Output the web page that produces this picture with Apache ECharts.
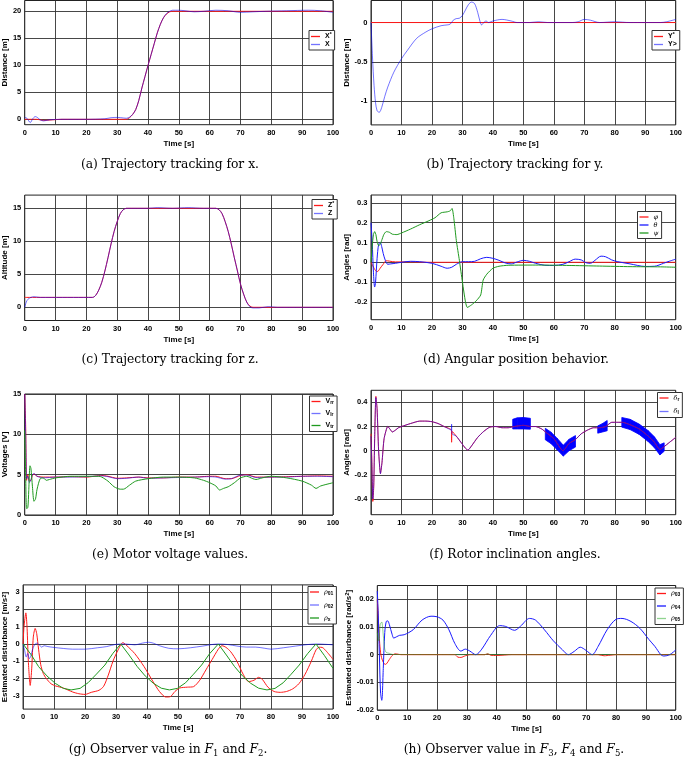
<!DOCTYPE html>
<html>
<head>
<meta charset="utf-8">
<script src="https://cdn.jsdelivr.net/npm/echarts@6/dist/echarts.min.js"></script>
<style>
  html, body { margin: 0; padding: 0; background: #fff; }
  #chart { width: 685px; height: 757px; }
</style>
</head>
<body>
<div id="chart"></div>
<script>
// ---- tick labels ----
const xTicks = [0, 10, 20, 30, 40, 50, 60, 70, 80, 90, 100];
const yTicksA = [0, 5, 10, 15, 20];
const yTicksB = [-1, -0.5, 0];
const yTicksC = [0, 5, 10, 15];
const yTicksD = [-0.2, -0.1, 0, 0.1, 0.2, 0.3];
const yTicksE = [0, 5, 10, 15];
const yTicksF = [-0.4, -0.2, 0, 0.2, 0.4];
const yTicksG = [-3, -2, -1, 0, 1, 2, 3];
const yTicksH = [-0.02, -0.01, 0, 0.01, 0.02];

// ---- (a) x tracking [t, value] ----
const xRef = [[0,0],[4,0],[6,-0.2],[9,-0.1],[12,0],[33,0],[34,0.3],[35,0.9],[36,1.8],[37,3.5],[38,5.8],[39,7.9],[40,10],[41,12],[42,14],[43,16],[44,17.6],[45,18.8],[46,19.5],[47,19.9],[48,20],[100,20]];
const xAct = [[0,0.35],[0.7,0.2],[1.8,-0.6],[2.6,0.1],[3.4,0.5],[4.2,0.3],[5,-0.1],[6.1,-0.3],[8,-0.1],[12,0],[20,0],[26,0.1],[28,0.3],[30,0.35],[32,0.25],[33,0.2],[34,0.4],[35,0.9],[36,1.8],[37,3.5],[38,5.8],[39,7.9],[40,10],[41,12],[42,14],[43,16],[44,17.6],[45,18.8],[46,19.6],[47,20],[48,20.2],[50,20.2],[52,20.1],[55,19.9],[58,20],[62,20.2],[66,20.1],[70,19.8],[74,19.9],[78,20],[85,20.1],[92,20.2],[96,20.1],[100,19.8]];

// ---- (b) y tracking ----
const yRef = [[0,0],[100,0]];
const yAct = [[0,0],[0.5,-0.45],[1,-0.8],[1.5,-1.02],[2,-1.12],[2.7,-1.14],[3.5,-1.08],[4.5,-0.94],[5.5,-0.82],[7.5,-0.63],[10,-0.46],[12,-0.35],[15,-0.2],[18,-0.12],[20,-0.08],[23,-0.04],[25,-0.03],[26,-0.02],[27,0.03],[28,0.05],[29,0.055],[30,0.09],[31,0.16],[32,0.23],[33,0.26],[34,0.24],[35,0.13],[35.8,0.01],[36.3,-0.03],[37,0],[37.8,0.02],[38.5,0],[40,0.02],[43,0.04],[46,0.02],[48,0],[52,0],[55,0.01],[58,0],[62,0],[66,0],[68,0.01],[70,0.04],[72,0.03],[75,0],[80,0.01],[85,0],[90,0],[95,0],[97,0.01],[100,0.04]];

// ---- (c) z tracking ----
const zRef = [[0,1.5],[22,1.5],[23,1.8],[24,2.6],[25,3.8],[26,5.5],[27,7.5],[28,9.6],[29,11.5],[30,13],[31,14.2],[32,14.8],[33,15],[62,15],[63,14.8],[64,14.2],[65,13],[66,11.5],[67,9.6],[68,7.5],[69,5.5],[70,3.5],[71,2],[72,0.8],[73,0.2],[74,0],[100,0]];
const zAct = [[0,0],[0.5,0.8],[1,1.2],[2,1.5],[3,1.6],[5,1.5],[22,1.5],[23,1.8],[24,2.6],[25,3.8],[26,5.5],[27,7.5],[28,9.6],[29,11.5],[30,13],[31,14.2],[32,14.8],[33,15],[40,15],[43,15.1],[48,15],[53,15.1],[58,15],[62,15],[63,14.8],[64,14.2],[65,13],[66,11.5],[67,9.6],[68,7.5],[69,5.5],[70,3.5],[71,2],[72,0.8],[73,0.1],[74,-0.1],[76,-0.1],[79,0.1],[82,0],[100,0]];

// ---- (d) angles ----
const phi = [[0,0],[0.5,-0.015],[1,-0.03],[1.5,-0.042],[2,-0.047],[2.5,-0.042],[3,-0.03],[4,-0.01],[5,0.008],[6,0.006],[8,0.002],[12,0.002],[20,0],[100,0]];
const theta = [[0,0.2],[0.4,0.1],[0.8,-0.05],[1.2,-0.125],[1.5,-0.1],[2,0.02],[2.5,0.09],[3,0.1],[3.5,0.08],[4,0.045],[4.7,0.01],[5.5,-0.01],[6.5,-0.008],[8,-0.005],[10,0],[13,0.005],[16,0.003],[20,-0.005],[23,-0.02],[25,-0.03],[26.5,-0.025],[28,-0.01],[30,0.003],[32,0.003],[34,0.005],[36,0.018],[38,0.025],[40,0.02],[42,0.01],[44,-0.003],[46,-0.008],[48,0.002],[50,0.01],[52,0.005],[54,-0.005],[57,-0.015],[60,-0.016],[63,-0.01],[65,0.003],[67,0.016],[69,0.012],[70.5,-0.002],[72,-0.005],[73.5,0.01],[75.5,0.031],[77,0.028],[79,0.012],[81,0.003],[85,-0.008],[90,-0.021],[93,-0.02],[96,-0.005],[98,0.006],[100,0.016]];
const psi = [[0,0],[0.4,0.08],[0.8,0.14],[1.2,0.155],[1.6,0.14],[2,0.105],[2.5,0.085],[3,0.09],[3.5,0.11],[4.2,0.14],[5,0.155],[6,0.152],[7,0.142],[8.5,0.14],[10,0.148],[13,0.168],[16,0.19],[19,0.21],[21,0.225],[23,0.25],[25,0.255],[26,0.26],[26.6,0.272],[27.2,0.22],[28,0.11],[29,0.01],[30,-0.1],[31,-0.2],[31.6,-0.228],[33,-0.215],[34.5,-0.195],[36,-0.165],[36.8,-0.09],[38,-0.06],[40,-0.03],[42,-0.02],[45,-0.015],[55,-0.014],[65,-0.016],[75,-0.019],[85,-0.022],[95,-0.023],[100,-0.025]];

// ---- (e) motor voltages ----
const vRR = [[0,15],[0.3,11],[0.6,4.3],[1,5],[1.5,4.2],[2,4.3],[2.5,4.9],[3,5.1],[4,4.8],[6,4.7],[10,4.7],[15,4.75],[20,4.7],[25,4.9],[27,4.8],[30,4.55],[33,4.6],[37,4.7],[40,4.6],[45,4.6],[50,4.7],[55,4.7],[60,4.8],[62,4.8],[65,4.5],[67,4.5],[70,4.9],[72,5],[75,4.7],[80,4.7],[85,4.75],[90,4.8],[95,4.85],[100,4.8]];
const vLR = [[0,15],[0.3,10],[0.6,4.5],[1,4.8],[1.5,4],[2,4.4],[2.5,5],[3,5.15],[4,4.8],[6,4.6],[10,4.7],[15,4.7],[20,4.75],[25,4.85],[27,4.75],[30,4.5],[33,4.55],[37,4.7],[40,4.55],[45,4.6],[50,4.65],[55,4.7],[60,4.75],[62,4.7],[65,4.45],[67,4.5],[70,4.95],[72,4.95],[75,4.65],[80,4.7],[85,4.7],[90,4.8],[95,4.8],[100,4.75]];
const vTR = [[0,10.5],[0.3,5],[0.6,0.8],[1,0.9],[1.3,3],[1.7,6.1],[2,5.8],[2.5,3.5],[3,1.7],[3.5,2],[4,3.2],[5,4.5],[6,4.6],[7,4.3],[8,4.4],[10,4.6],[15,4.8],[20,4.8],[24,4.8],[25,4.7],[27,4.2],[29,3.5],[31,3.2],[32,3.2],[34,3.7],[36,4.2],[40,4.5],[45,4.7],[50,4.7],[55,4.6],[58,4.3],[60,4],[62,3.6],[63.2,3.1],[64.5,3.3],[66,3.5],[68,4],[70,4.6],[72,4.8],[74,4.5],[75,4.4],[77,4.6],[80,4.8],[85,4.6],[90,4.2],[93,3.7],[94.5,3.3],[96,3.6],[100,4]];

// ---- (f) rotor inclination ----
const dR = [[0,0.14],[0.3,-0.1],[0.6,-0.42],[0.9,-0.3],[1.2,0.1],[1.6,0.45],[2,0.35],[2.5,0],[3.1,-0.19],[3.6,-0.1],[4.3,0.1],[5.5,0.2],[6.2,0.18],[7,0.155],[8,0.17],[9,0.19],[10,0.2],[13,0.225],[16,0.245],[18,0.245],[20,0.24],[22,0.225],[24,0.2],[26.4,0.17],[26.45,0.07],[26.6,0.16],[28,0.12],[29.5,0.07],[31,0.02],[31.8,0.005],[33,0.04],[35,0.11],[37,0.16],[39,0.195],[41,0.2],[43,0.19],[45,0.19],[47,0.2],[50,0.21],[52.5,0.2],[54,0.2],[56,0.18],[57.5,0.15],[60,0.1],[63,0],[65,0.06],[67,0.09],[69,0.14],[71,0.17],[73,0.19],[75,0.19],[77,0.2],[79,0.235],[81,0.235],[82.5,0.235],[85,0.215],[88,0.18],[91,0.12],[93,0.07],[94.8,0.01],[96,0.03],[98,0.07],[100,0.11]];
const dL = [[0,0.12],[0.3,-0.12],[0.6,-0.4],[0.9,-0.28],[1.2,0.1],[1.6,0.44],[2,0.34],[2.5,0],[3.1,-0.19],[3.6,-0.1],[4.3,0.1],[5.5,0.2],[6.2,0.18],[7,0.155],[8,0.17],[9,0.19],[10,0.2],[13,0.225],[16,0.245],[18,0.245],[20,0.24],[22,0.225],[24,0.2],[26.4,0.17],[26.45,0.22],[26.6,0.14],[28,0.12],[29.5,0.07],[31,0.02],[31.8,0.005],[33,0.04],[35,0.11],[37,0.16],[39,0.195],[41,0.2],[43,0.19],[45,0.19],[47,0.2],[50,0.21],[52.5,0.2],[54,0.2],[56,0.18],[57.5,0.15],[60,0.1],[63,0],[65,0.06],[67,0.09],[69,0.14],[71,0.17],[73,0.19],[75,0.19],[77,0.2],[79,0.235],[81,0.235],[82.5,0.235],[85,0.215],[88,0.18],[91,0.12],[93,0.07],[94.8,0.01],[96,0.03],[98,0.07],[100,0.11]];
// chattering bands of δl: [t, low, high]; null rows split the bands
const dLBand = [[46.5,0.18,0.26],[48,0.18,0.272],[50,0.18,0.275],[52.3,0.178,0.268],[54,null,null],
  [57.2,0.09,0.185],[59,0.06,0.155],[61,0.01,0.105],[63.1,-0.045,0.045],[65,0,0.095],[67.1,0.03,0.125],[70,null,null],
  [74.4,0.145,0.205],[76,0.155,0.225],[77.5,0.165,0.25],[80,null,null],
  [82.3,0.195,0.275],[85,0.175,0.26],[88,0.135,0.22],[91,0.075,0.165],[93,0.025,0.115],[94.8,-0.035,0.05],[96.2,-0.005,0.065]];

// ---- (g) observer F1, F2 ----
const rho01 = [[0,0],[0.3,1],[0.9,1.8],[1.3,0.9],[1.7,-1],[2.3,-2.4],[2.8,-1.4],[3.3,0.4],[3.9,0.9],[4.4,0.6],[5,-0.3],[5.7,-1.2],[6.5,-1.7],[7.5,-2],[9,-2.3],[10.5,-2.43],[13,-2.55],[16,-2.78],[18,-2.88],[20,-2.92],[22,-2.8],[24.5,-2.68],[26,-2.45],[27.5,-1.8],[29,-1],[30.5,-0.4],[32.2,0.08],[33.5,-0.1],[36,-0.55],[39,-1.3],[42,-2.2],[44,-2.75],[46,-3.07],[47.5,-3.05],[49,-2.75],[50.5,-2.55],[53,-2.5],[55,-2.47],[57,-2.1],[59,-1.5],[61,-0.9],[63,-0.3],[64.2,-0.1],[65.5,-0.2],[67,-0.45],[69,-1],[71,-1.75],[72.8,-2.18],[74.5,-2.1],[76,-1.93],[77.2,-2.05],[79,-2.5],[81,-2.75],[83,-2.8],[85,-2.75],[87,-2.6],[89,-2.3],[91,-1.75],[93,-1],[94.5,-0.35],[95.5,-0.19],[96.5,-0.2],[98,-0.45],[100,-0.89]];
const rho02 = [[0,0],[0.5,-0.35],[1,-0.75],[1.5,-0.55],[2,-0.85],[2.5,-0.7],[3,-0.35],[3.7,-0.05],[4.5,0.05],[5.2,-0.05],[6,-0.18],[6.8,-0.1],[8,-0.15],[10,-0.2],[13,-0.26],[16,-0.3],[20,-0.3],[24,-0.22],[27,-0.15],[30,-0.02],[33,0],[36,-0.05],[38.5,0.05],[40.5,0.1],[42,0.05],[44,-0.1],[47,-0.25],[50,-0.28],[54,-0.22],[58,-0.12],[61,-0.03],[63,0],[66,-0.03],[69,-0.12],[72,-0.18],[75,-0.18],[78,-0.25],[80,-0.3],[84,-0.22],[88,-0.12],[92,-0.03],[95,0],[100,-0.05]];
const rhoX = [[0,0],[2.7,-0.64],[5,-1.31],[7.7,-1.85],[10.4,-2.28],[13,-2.57],[15.5,-2.66],[18.4,-2.57],[21,-2.24],[23.7,-1.74],[26.4,-1.22],[29,-0.54],[31.5,0],[34.2,-0.64],[36.8,-1.3],[39.4,-1.85],[42,-2.27],[44.6,-2.56],[47.2,-2.66],[49.8,-2.57],[52.4,-2.25],[55,-1.75],[57.6,-1.22],[60.2,-0.56],[63,0],[65.6,-0.64],[68.2,-1.3],[70.8,-1.85],[73.4,-2.27],[76,-2.56],[78.7,-2.66],[81.3,-2.57],[83.9,-2.25],[86.5,-1.75],[89.1,-1.22],[91.8,-0.56],[94.5,0],[97.2,-0.66],[100,-1.41]];

// ---- (h) observer F3, F4, F5 ----
const rho03 = [[0,0.02],[0.4,0.012],[0.8,0.004],[1.2,0],[1.7,-0.002],[2.3,-0.0033],[2.8,-0.0035],[3.3,-0.003],[4,-0.0018],[5,-0.0003],[6,0.0003],[8,0],[26,0],[27,-0.0009],[28,-0.001],[29.5,-0.0004],[31,0],[36,0],[37,0.0003],[38,-0.0002],[40,-0.0003],[45,0],[74,0],[76,-0.0004],[78,-0.0002],[80,0],[100,0]];
const rho04 = [[0,0.023],[0.3,0.015],[0.7,0],[1.1,-0.014],[1.5,-0.0165],[2,-0.005],[2.5,0.008],[3,0.012],[3.5,0.0122],[4,0.011],[5,0.0072],[5.5,0.006],[6.5,0.0065],[7.5,0.007],[9,0.0072],[12,0.009],[15,0.0125],[18,0.0139],[20,0.0137],[22,0.0125],[24,0.009],[26,0.004],[28,0.0013],[29.5,0.002],[31,0.0013],[33,0],[35,0.002],[38,0.007],[41,0.0105],[43,0.0102],[46,0.0088],[48,0.0103],[51,0.0131],[53,0.0125],[56,0.009],[59,0.005],[62,0.0018],[64,0],[66,0.0012],[68,0.0027],[70,0.0015],[72,0],[74,0.003],[77,0.009],[80,0.0128],[82,0.0131],[85,0.012],[88,0.0095],[91,0.0055],[93,0.003],[95,0],[96,-0.0005],[98,0],[100,0.0017]];
const rho05 = [[0,0.008],[0.5,0.005],[1,0.011],[1.5,0.0118],[2,0.007],[2.5,0.002],[3,0.0008],[4,0.0005],[5,0.0001],[36,0],[37,0.0003],[38,0],[100,0]];

// ---- layout ----
const RED = '#ff1a1a';
const BLUE = 'rgba(0,0,255,0.55)';
const BLUE_SOLID = '#1a1aff';
const GREEN = '#1f9a1f';
const GREEN_LIGHT = 'rgba(31,170,31,0.5)';
const FONT = 'Liberation Sans';

const panels = [
  { box: [21, 0.5, 312, 124.2], y: [-1, 22], ticks: yTicksA, name: 'Distance [m]', gap: 13 },
  { box: [371, 0.5, 307, 124.4], y: [-1.3, 0.28], ticks: yTicksB, name: 'Distance [m]', gap: 19 },
  { box: [21, 195.1, 312, 125.4], y: [-2, 17], ticks: yTicksC, name: 'Altitude [m]', gap: 13 },
  { box: [371, 195, 307, 124.7], y: [-0.29, 0.34], ticks: yTicksD, name: 'Angles [rad]', gap: 19 },
  { box: [21, 394, 312, 121], y: [0, 15], ticks: yTicksE, name: 'Voltages [V]', gap: 13 },
  { box: [371, 390.3, 307, 124.4], y: [-0.53, 0.5], ticks: yTicksF, name: 'Angles [rad]', gap: 19 },
  { box: [21, 584.9, 312, 124.2], y: [-3.77, 3.42], ticks: yTicksG, name: '{n|Estimated disturbance [m/s}{sup|2}{n|]}', gap: 11 },
  { box: [377.3, 585.5, 300.7, 124.5], y: [-0.02, 0.025], ticks: yTicksH, name: '{n|Estimated disturbance [rad/s}{sup|2}{n|]}', gap: 24 }
];

const labelStyle = { fontFamily: FONT, fontWeight: 'bold', fontSize: 7.5, color: '#000' };
const nameStyle = {
  fontFamily: FONT, fontWeight: 'bold', fontSize: 8, color: '#000',
  rich: {
    n: { fontFamily: FONT, fontWeight: 'bold', fontSize: 8, color: '#000' },
    sup: { fontFamily: FONT, fontWeight: 'bold', fontSize: 6, color: '#000', verticalAlign: 'top', lineHeight: 8 }
  }
};
const gridLine = { show: true, lineStyle: { color: '#333', width: 0.9 } };

const grids = panels.map(p => ({
  left: p.box[0], top: p.box[1], width: p.box[2], height: p.box[3],
  show: true, borderColor: '#222', borderWidth: 1, backgroundColor: '#fff', containLabel: false
}));
const xAxes = panels.map((p, i) => ({
  gridIndex: i, type: 'value', min: 0, max: 100, interval: 10,
  axisLine: { show: false }, axisTick: { show: false },
  axisLabel: Object.assign({ margin: 4 }, labelStyle),
  splitLine: gridLine,
  name: 'Time [s]', nameLocation: 'middle', nameGap: 15, nameTextStyle: nameStyle
}));
const yAxes = panels.map((p, i) => ({
  gridIndex: i, type: 'value', min: p.y[0], max: p.y[1],
  axisLine: { show: false },
  axisTick: { show: false, customValues: p.ticks },
  axisLabel: Object.assign({ margin: 3.5, customValues: p.ticks }, labelStyle),
  splitLine: gridLine,
  name: p.name, nameLocation: 'middle', nameGap: p.gap, nameTextStyle: nameStyle
}));

function line(name, data, gi, color, extra) {
  return Object.assign({
    name: name, type: 'line', xAxisIndex: gi, yAxisIndex: gi, data: data,
    symbol: 'none', smooth: 0.3, silent: true,
    lineStyle: { color: color, width: 1 }, itemStyle: { color: color }
  }, extra || {});
}

// chattering band drawn as quads between consecutive [t, low, high] rows
const bandSeries = {
  type: 'custom', xAxisIndex: 5, yAxisIndex: 5, silent: true, clip: true,
  data: dLBand.map(d => [d[0], d[1] == null ? 0 : d[1], d[2] == null ? 0 : d[2]]),
  renderItem: function (params, api) {
    const a = dLBand[params.dataIndex], b = dLBand[params.dataIndex + 1];
    if (!b || a[1] == null || b[1] == null) return;
    return {
      type: 'polygon',
      shape: { points: [api.coord([a[0], a[1]]), api.coord([b[0], b[1]]), api.coord([b[0], b[2]]), api.coord([a[0], a[2]])] },
      style: { fill: '#0000ff', stroke: '#0000ff', lineWidth: 0.8 }
    };
  }
};

const series = [
  line('xRef', xRef, 0, RED), line('xAct', xAct, 0, BLUE),
  line('yRef', yRef, 1, RED, { smooth: false }), line('yAct', yAct, 1, BLUE),
  line('zRef', zRef, 2, RED), line('zAct', zAct, 2, BLUE),
  line('phi', phi, 3, RED), line('theta', theta, 3, BLUE_SOLID), line('psi', psi, 3, GREEN, { smooth: 0.2 }),
  line('vRR', vRR, 4, RED, { smooth: 0.2 }), line('vLR', vLR, 4, BLUE, { smooth: 0.2 }), line('vTR', vTR, 4, GREEN, { smooth: 0.25 }),
  line('dR', dR, 5, RED, { smooth: 0.2 }), line('dL', dL, 5, BLUE, { smooth: 0.2 }),
  bandSeries,
  line('rho01', rho01, 6, RED, { smooth: 0.25 }), line('rho02', rho02, 6, BLUE, { smooth: 0.3 }), line('rhoX', rhoX, 6, GREEN, { smooth: false }),
  line('rho03', rho03, 7, RED, { smooth: 0.25 }), line('rho04', rho04, 7, BLUE_SOLID, { smooth: 0.3 }), line('rho05', rho05, 7, GREEN_LIGHT, { smooth: 0.25 })
];

const legendText = {
  xRef: '{b|X}{sup|*}', xAct: '{b|X}',
  yRef: '{b|Y}{sup|*}', yAct: '{b|Y>}',
  zRef: '{b|Z}{sup|*}', zAct: '{b|Z}',
  phi: '{g|φ}', theta: '{g|θ}', psi: '{g|ψ}',
  vRR: '{b|V}{sub|rr}', vLR: '{b|V}{sub|lr}', vTR: '{b|V}{sub|tr}',
  dR: '{g|δ}{sub|r}', dL: '{g|δ}{sub|l}',
  rho01: '{g|ρ}{sub|01}', rho02: '{g|ρ}{sub|02}', rhoX: '{g|ρ}{sub|x}',
  rho03: '{g|ρ}{sub|03}', rho04: '{g|ρ}{sub|04}', rho05: '{g|ρ}{sub|05}'
};
const legendRich = {
  b: { fontFamily: FONT, fontWeight: 'bold', fontSize: 7, lineHeight: 8, color: '#000' },
  g: { fontFamily: 'DejaVu Serif', fontStyle: 'italic', fontSize: 6.5, lineHeight: 8, color: '#000' },
  sup: { fontFamily: FONT, fontWeight: 'bold', fontSize: 5, lineHeight: 8, verticalAlign: 'top', color: '#000' },
  sub: { fontFamily: FONT, fontWeight: 'bold', fontSize: 5, lineHeight: 8, verticalAlign: 'bottom', color: '#000' }
};
function legend(names, left, top, gap) {
  return {
    data: names, left: left, top: top, orient: 'vertical', itemGap: gap,
    icon: 'rect', itemWidth: 9, itemHeight: 1.3, padding: [2, 3, 2, 2],
    backgroundColor: '#fff', borderColor: '#333', borderWidth: 1, borderRadius: 0,
    selectedMode: false, formatter: n => legendText[n],
    textStyle: { fontSize: 7, rich: legendRich }
  };
}
const legends = [
  legend(['xRef', 'xAct'], 309, 30.5, 1),
  legend(['yRef', 'yAct'], 652, 30.5, 1),
  legend(['zRef', 'zAct'], 312, 199.5, 1),
  legend(['phi', 'theta', 'psi'], 637.5, 211.5, 1),
  legend(['vRR', 'vLR', 'vTR'], 309.5, 396, 4.5),
  legend(['dR', 'dL'], 657.5, 392.5, 6),
  legend(['rho01', 'rho02', 'rhoX'], 308, 586.5, 5.5),
  legend(['rho03', 'rho04', 'rho05'], 655, 588, 5)
];

const CAP_FONT = 'DejaVu Serif';
const capRich = {
  n: { fontFamily: CAP_FONT, fontSize: 12.3, fill: '#000' },
  i: { fontFamily: CAP_FONT, fontStyle: 'italic', fontSize: 12.3, fill: '#000' },
  s: { fontFamily: CAP_FONT, fontSize: 8.5, fill: '#000', verticalAlign: 'bottom', lineHeight: 17 }
};
const captions = [
  ['{n|(a) Trajectory tracking for x.}', 170, 165],
  ['{n|(b) Trajectory tracking for y.}', 515, 165],
  ['{n|(c) Trajectory tracking for z.}', 170, 360],
  ['{n|(d) Angular position behavior.}', 516, 360],
  ['{n|(e) Motor voltage values.}', 170, 555],
  ['{n|(f) Rotor inclination angles.}', 515, 555],
  ['{n|(g) Observer value in }{i|F}{s|1}{n| and }{i|F}{s|2}{n|.}', 168, 750],
  ['{n|(h) Observer value in }{i|F}{s|3}{n|, }{i|F}{s|4}{n| and }{i|F}{s|5}{n|.}', 514, 750]
];

const chart = echarts.init(document.getElementById('chart'), null, { renderer: 'canvas' });
chart.setOption({
  backgroundColor: '#fff',
  animation: false,
  grid: grids,
  xAxis: xAxes,
  yAxis: yAxes,
  legend: legends,
  series: series,
  graphic: captions.map(c => ({
    type: 'text', x: c[1], y: c[2], silent: true,
    style: { text: c[0], rich: capRich, align: 'center', verticalAlign: 'middle', fill: '#000' }
  }))
});
</script>
</body>
</html>
